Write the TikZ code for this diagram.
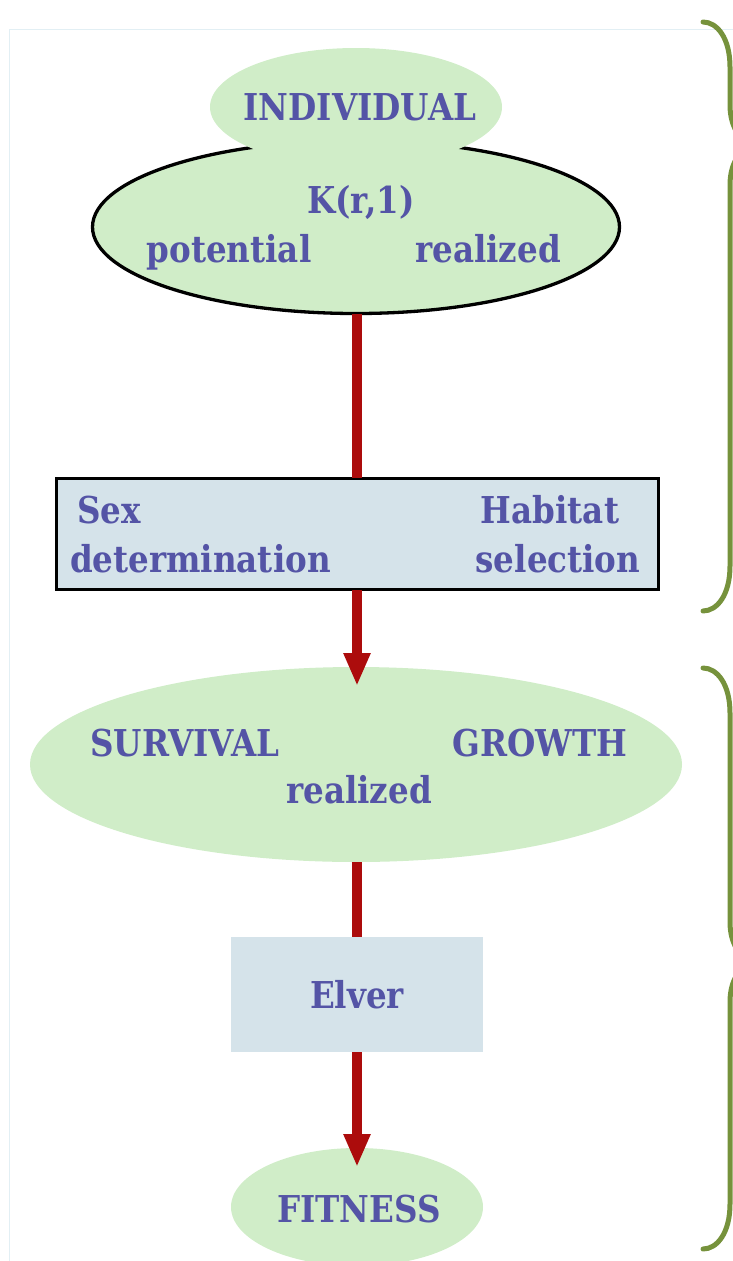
\documentclass[tikz,border=0pt]{standalone}
\usepackage{fontspec}
\setmainfont{DejaVu Serif}[FakeStretch=0.88]
\usetikzlibrary{shapes.geometric,arrows.meta}
\definecolor{leaf}{RGB}{208,237,200}
\definecolor{steel}{RGB}{213,227,234}
\definecolor{ink}{RGB}{84,84,166}
\definecolor{blood}{RGB}{172,12,12}
\definecolor{olive}{RGB}{118,146,60}
\definecolor{frameline}{RGB}{226,239,244}
\begin{document}
\begin{tikzpicture}[x=1pt,y=-1pt,
  every node/.style={inner sep=0pt, outer sep=0pt},
  lbl/.style={text=ink, font=\bfseries\fontsize{37}{44}\selectfont},
  blob/.style={ellipse, fill=leaf},
  panel/.style={rectangle, fill=steel},
  flow/.style={draw=blood, line width=9.5pt},
  flowhead/.style={flow, -{Triangle[width=25pt,length=33pt]}, shorten >=-19pt},
  brace/.style={draw=olive, line width=5pt, line cap=round}]
\useasboundingbox (0,0) rectangle (733,1261);
\clip (0,0) rectangle (733,1261);

% faint page frame
\draw[frameline, line width=1pt] (9,1261) -- (9,29) -- (733,29);

% shapes
\node[blob, draw=black, line width=3.3pt, minimum width=527pt, minimum height=173pt] (kind) at (356,227) {};
\node[blob, minimum width=292pt, minimum height=118pt] (indiv) at (356,107) {};
\node[panel, draw=black, line width=3.3pt, minimum width=602pt, minimum height=111.5pt] (choice) at (357.75,534) {};
\node[blob, minimum width=652pt, minimum height=195pt] (surv) at (356,764.5) {};
\node[panel, minimum width=252pt, minimum height=115pt] (elver) at (357,994.5) {};
\node[blob, minimum width=252pt, minimum height=118pt] (fit) at (357,1207) {};

% labels
\node[lbl, anchor=base] (tIndiv) at (360,120) {INDIVIDUAL};
\node[lbl, anchor=base] (tK) at (361,213) {K(r,1)};
\node[lbl, anchor=base] (tPot) at (229,262) {potential};
\node[lbl, anchor=base] (tReal) at (488,262) {realized};
\node[lbl, anchor=base west] (tSex) at (77,523) {Sex};
\node[lbl, anchor=base west] (tDet) at (70,572) {determination};
\node[lbl, anchor=base] (tHab) at (550,523) {Habitat};
\node[lbl, anchor=base] (tSel) at (558,572) {selection};
\node[lbl, anchor=base] (tSurv) at (185,756) {SURVIVAL};
\node[lbl, anchor=base] (tGrow) at (540,756) {GROWTH};
\node[lbl, anchor=base] (tReal2) at (359,803) {realized};
\node[lbl, anchor=base] (tElver) at (357,1008) {Elver};
\node[lbl, anchor=base] (tFit) at (359,1222) {FITNESS};

% connectors
\draw[flow] (kind.south -| elver.center) -- (choice.north -| elver.center);
\draw[flowhead] (choice.south -| elver.center) -- (surv.north -| elver.center);
\draw[flow] (surv.south -| elver.center) -- (elver.north);
\draw[flowhead] (elver.south) -- (fit.north);

% right-hand braces
\draw[brace] (703,22) .. controls (717,22) and (730,38) .. (730,67)
  -- (730,105) .. controls (730,130) and (743,145) .. (759,145)
  .. controls (743,145) and (730,160) .. (730,185)
  -- (730,566) .. controls (730,595) and (717,611) .. (703,611);
\draw[brace] (703,668) .. controls (717,668) and (730,684) .. (730,713)
  -- (730,922) .. controls (730,947) and (743,962) .. (759,962)
  .. controls (743,962) and (730,977) .. (730,1002)
  -- (730,1204) .. controls (730,1233) and (717,1249) .. (703,1249);
\end{tikzpicture}
\end{document}
